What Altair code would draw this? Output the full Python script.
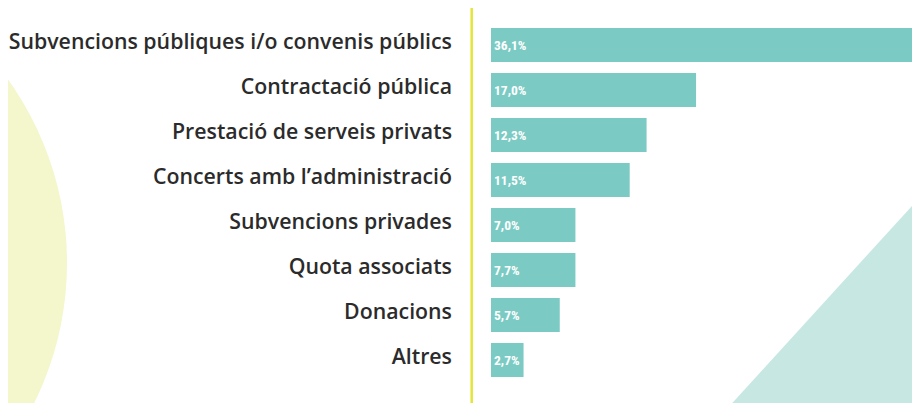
import altair as alt
import pandas as pd

categories = [
    "Subvencions públiques i/o convenis públics",
    "Contractació pública",
    "Prestació de serveis privats",
    "Concerts amb l’administració",
    "Subvencions privades",
    "Quota associats",
    "Donacions",
    "Altres",
]
# bar lengths as drawn in the picture (percent)
values = [36.1, 17.0, 12.9, 11.5, 7.0, 7.0, 5.7, 2.7]
# labels printed inside the bars
value_labels = ["36,1%", "17,0%", "12,3%", "11,5%", "7,0%", "7,7%", "5,7%", "2,7%"]

df = pd.DataFrame({"cat": categories, "val": values, "lab": value_labels})
one = pd.DataFrame({"d": [0]})

yscale = alt.Scale(domain=categories, range=[14.5, 374.5], paddingInner=0.244, paddingOuter=0.122)
y = alt.Y("cat:N", sort=categories, scale=yscale, axis=None)
xscale = alt.Scale(domain=[0, 36.1], range=[483, 918.4])

circle = alt.Chart(one).mark_point(
    shape="circle", filled=True, opacity=1, color="#f4f6cb", strokeWidth=0
).encode(x=alt.value(-256), y=alt.value(255), size=alt.value(396900))

triangle = alt.Chart(one).mark_point(
    shape="M-1,0 L0,-1.097 L0,0 Z", filled=True, opacity=1, color="#c7e7e3", strokeWidth=0
).encode(x=alt.value(932), y=alt.value(423), size=alt.value(217530))

rule = alt.Chart(one).mark_rule(color="#e4e536", strokeWidth=2.5).encode(
    x=alt.value(463.7), y=alt.value(-1), y2=alt.value(400)
)

bars = alt.Chart(df).mark_bar(color="#7bcbc4").encode(
    x=alt.X("val:Q", scale=xscale, axis=None), y=y
)

bar_text = alt.Chart(df).mark_text(
    align="left", baseline="middle", color="white", font="Roboto Condensed, Roboto",
    fontWeight="bold", fontSize=13.5, dy=1
).encode(x=alt.value(486), y=y, text="lab:N")

cat_text = alt.Chart(df).mark_text(
    align="right", baseline="middle", color="#2b2b2b", font="Open Sans",
    fontWeight=600, fontSize=21.3, dy=-2
).encode(x=alt.value(444), y=y, text="cat:N")

chart = alt.layer(circle, triangle, rule, bars, bar_text, cat_text).properties(
    width=904, height=395, autosize=alt.AutoSizeParams(type="none"), padding=0,
    background="white"
).configure_view(stroke=None)

chart.save("out.html", embed_options={"renderer": "svg", "actions": False})
